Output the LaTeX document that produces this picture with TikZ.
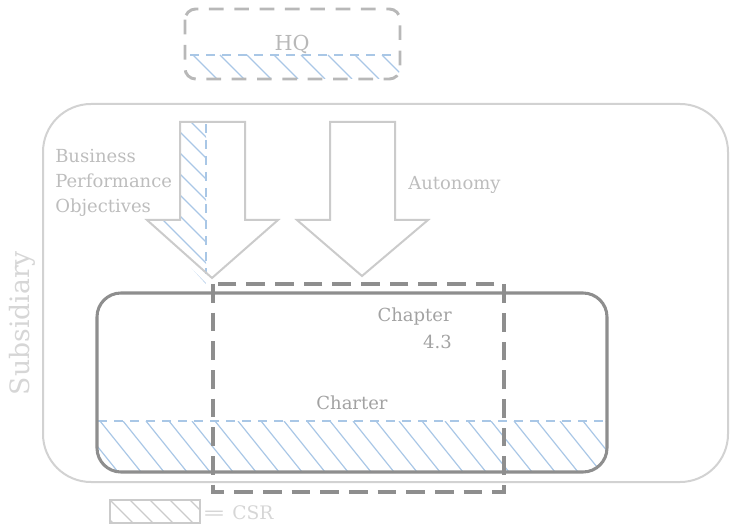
\documentclass[tikz,border=0pt]{standalone}
\usepackage{fontspec}
\setmainfont{DejaVu Serif}
\definecolor{txtgray}{HTML}{BDBDBD}
\definecolor{subgray}{HTML}{D6D6D6}
\definecolor{linegray}{HTML}{D2D2D2}
\definecolor{arrowgray}{HTML}{CBCBCB}
\definecolor{darkgray2}{HTML}{8E8E8E}
\definecolor{hqgray}{HTML}{B8B8B8}
\definecolor{hatchblue}{HTML}{A9C7E6}
\definecolor{chartxt}{HTML}{A2A2A2}
\tikzset{
  subsbox/.style={draw=linegray, line width=1.5pt, rounded corners=36pt},
  hqbox/.style={draw=hqgray, line width=2.2pt, rounded corners=8pt, dash pattern=on 11pt off 8pt},
  charterbox/.style={draw=darkgray2, line width=2.3pt, rounded corners=18pt},
  chapterbox/.style={draw=darkgray2, line width=2.3pt, dash pattern=on 14pt off 7.5pt},
  blockarrow/.style={draw=arrowgray, line width=1.5pt, line join=miter},
  hatchline/.style={draw=hatchblue, line width=0.9pt},
  bluedash/.style={draw=hatchblue, line width=1.1pt, dash pattern=on 7pt off 5pt},
  legendbox/.style={draw=arrowgray, line width=1.5pt},
  legendhatch/.style={draw=arrowgray, line width=1pt},
  lbl/.style={text=txtgray, font=\fontsize{13.5}{19}\selectfont, inner sep=0pt},
}
\begin{document}
\begin{tikzpicture}[x=0.75pt,y=-0.75pt]
\useasboundingbox (0,0) rectangle (732,527);

% Subsidiary frame
\draw[subsbox] (43,104) rectangle (728,482);
\node[rotate=90, text=subgray, font=\fontsize{20}{24}\selectfont, inner sep=0pt] (subs) at (22,323) {Subsidiary};

% HQ box with hatch
\begin{scope}
  \clip[rounded corners=8pt] (185,9) rectangle (400,79);
  \clip (185,55) rectangle (400,79);
  \foreach \x in {166,193,...,420} \draw[hatchline] (\x,55) -- ++(24,24);
\end{scope}
\draw[bluedash] (190,55) -- (396,55);
\draw[hqbox] (185,9) rectangle (400,79);
\node[text=hqgray, font=\fontsize{15.5}{18}\selectfont, inner sep=0pt] (hq) at (292,44) {HQ};

% Left block arrow with partial hatch
\begin{scope}
  \clip (180,122) -- (206,122) -- (206,284) -- (147,220) -- (180,220) -- cycle;
  \foreach \y in {60,81,...,300} \draw[hatchline] (150,\y) -- ++(80,80);
\end{scope}
\draw[bluedash] (206,124) -- (206,274);
\draw[blockarrow] (180,122) -- (245,122) -- (245,220) -- (278,220) -- (212,278) -- (147,220) -- (180,220) -- cycle;

% Right block arrow
\draw[blockarrow] (330,122) -- (395,122) -- (395,220) -- (428,220) -- (362,276) -- (297,220) -- (330,220) -- cycle;

\node[lbl, anchor=west, align=left] (bpo) at (55,183) {Business\\Performance\\Objectives};
\node[lbl, anchor=west] (auto) at (408,185) {Autonomy};

% Charter box with hatch
\begin{scope}
  \clip[rounded corners=18pt] (97,293) rectangle (607,472);
  \clip (97,421) rectangle (607,472);
  \foreach \x in {31,54,...,620} \draw[hatchline] (\x,421) -- ++(41,51);
\end{scope}
\draw[bluedash] (98,421) -- (606,421);
\draw[charterbox] (97,293) rectangle (607,472);
\node[lbl, text=chartxt] (charter) at (352,403) {Charter};
\node[lbl, text=chartxt, anchor=east, align=right, font=\fontsize{13.5}{20}\selectfont] (chap) at (452,328) {Chapter\\4.3};

% Chapter dashed frame
\draw[chapterbox] (213,284) rectangle (504,492);

% Legend
\begin{scope}
  \clip (110,500) rectangle (200,523);
  \foreach \x in {90,110,...,210} \draw[legendhatch] (\x,500) -- ++(23,23);
\end{scope}
\draw[legendbox] (110,500) rectangle (200,523);
\node[lbl, text=subgray, anchor=west, font=\fontsize{14}{18}\selectfont] (csr) at (202,513) {\scalebox{1.5}[1]{=}\hspace{5pt}CSR};
\end{tikzpicture}
\end{document}
